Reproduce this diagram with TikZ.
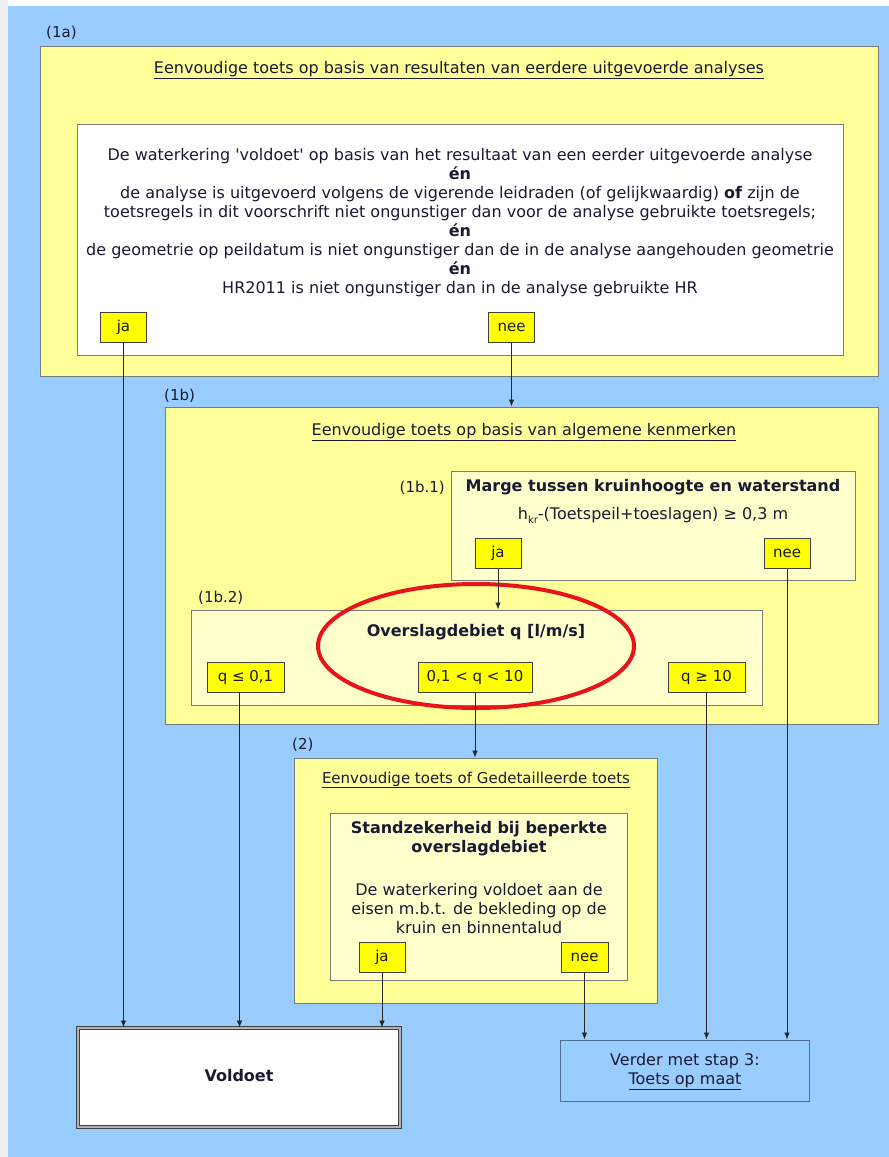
\documentclass[tikz,border=0pt]{standalone}
\usepackage{fontspec}
\setmainfont{DejaVu Sans}
\usetikzlibrary{arrows.meta,shapes.geometric}
\definecolor{bgblue}{HTML}{99CCFF}
\definecolor{margray}{HTML}{EEEEEE}
\definecolor{boxyel}{HTML}{FFFF99}
\definecolor{paleyel}{HTML}{FFFFCC}
\definecolor{optyel}{HTML}{FFFF00}
\definecolor{bordgray}{HTML}{7A7A7A}
\definecolor{txtcol}{HTML}{1A1A33}
\definecolor{ringred}{HTML}{E8141B}
\definecolor{verderbord}{HTML}{4F6F95}
\tikzset{
  bigbox/.style={draw=bordgray, fill=boxyel, line width=1pt, inner sep=0pt},
  palebox/.style={draw=bordgray, fill=paleyel, line width=1pt, inner sep=0pt},
  whitebox/.style={draw=bordgray, fill=white, line width=1pt, inner sep=0pt},
  optbox/.style={draw=black!75, fill=optyel, line width=1pt, inner sep=0pt, minimum height=30pt, text=txtcol, font=\fontsize{15}{18}\selectfont},
  txt/.style={text=txtcol, font=\fontsize{16}{19}\selectfont, inner sep=0pt, align=center},
  boldtxt/.style={text=txtcol, font=\fontsize{16}{19.5}\selectfont\bfseries, inner sep=0pt, align=center},
  lbl/.style={text=txtcol, font=\fontsize{15}{18}\selectfont, inner sep=0pt},
  conn/.style={draw=black!85, line width=0.8pt, -{Latex[length=7pt,width=5.5pt]}},
}
\begin{document}
\begin{tikzpicture}[x=1pt,y=-1pt]
\useasboundingbox (0,0) rectangle (889,1157);
\fill[white] (0,0) rectangle (889,1157);
\fill[margray] (0,0) rectangle (8,1157);
\fill[bgblue] (8,6) rectangle (889,1157);

% (1a)
\node[lbl, anchor=west] (l1a) at (46,33) {(1a)};
\node[bigbox, minimum width=838pt, minimum height=330pt] (b1a) at (459,211) {};
\node[txt] (t1a) at (459,70) {\underline{Eenvoudige toets op basis van resultaten van eerdere uitgevoerde analyses}};
\node[whitebox, minimum width=766pt, minimum height=231pt] (w1a) at (460,239.5) {};
\node[txt] (c1a) at (460,223) {De waterkering \textquotesingle voldoet\textquotesingle\ op basis van het resultaat van een eerder uitgevoerde analyse\\
\textbf{én}\\
de analyse is uitgevoerd volgens de vigerende leidraden (of gelijkwaardig) \textbf{of} zijn de\\
toetsregels in dit voorschrift niet ongunstiger dan voor de analyse gebruikte toetsregels;\\
\textbf{én}\\
de geometrie op peildatum is niet ongunstiger dan de in de analyse aangehouden geometrie\\
\textbf{én}\\
HR2011 is niet ongunstiger dan in de analyse gebruikte HR};
\node[optbox, minimum width=46pt] (ja1) at (123.5,327) {ja};
\node[optbox, minimum width=46pt] (nee1) at (511.5,327) {nee};

% (1b)
\node[lbl, anchor=west] (l1b) at (164,396) {(1b)};
\node[bigbox, minimum width=713pt, minimum height=317pt] (b1b) at (521.5,565.5) {};
\node[txt] (t1b) at (524,432) {\underline{Eenvoudige toets op basis van algemene kenmerken}};

% (1b.1)
\node[lbl, anchor=east] (l1b1) at (445,488) {(1b.1)};
\node[palebox, minimum width=404pt, minimum height=109pt] (b11) at (653,525.5) {};
\node[boldtxt] (m11) at (653,487) {Marge tussen kruinhoogte en waterstand};
\node[txt] (f11) at (653,515) {h\raisebox{-0.45ex}{\fontsize{10}{10}\selectfont kr}-(Toetspeil+toeslagen) ≥ 0,3 m};
\node[optbox, minimum width=46pt] (ja2) at (498,553.5) {ja};
\node[optbox, minimum width=46pt] (nee2) at (787,553.5) {nee};

% (1b.2)
\node[lbl, anchor=west] (l1b2) at (198,598) {(1b.2)};
\node[palebox, minimum width=571pt, minimum height=95pt] (b12) at (476.5,657.5) {};
\node[boldtxt] (m12) at (476,632) {Overslagdebiet q [l/m/s]};
\node[optbox, minimum width=77pt] (q1) at (245.5,677) {q ≤ 0,1};
\node[optbox, minimum width=114pt] (q2) at (475,677) {0,1 < q < 10};
\node[optbox, minimum width=77pt] (q3) at (706.5,677) {q ≥ 10};
\node[draw=ringred, line width=4pt, ellipse, minimum width=316pt, minimum height=124pt, inner sep=0pt] (ring) at (476,646) {};

% (2)
\node[lbl, anchor=west] (l2) at (292,745) {(2)};
\node[bigbox, minimum width=363pt, minimum height=245pt] (b2) at (475.5,880.5) {};
\node[txt, font=\fontsize{15}{18}\selectfont] (t2) at (476,780) {\underline{Eenvoudige toets of Gedetailleerde toets}};
\node[palebox, minimum width=297pt, minimum height=167pt] (b2i) at (478.5,896.5) {};
\node[boldtxt] (m2) at (479,838.5) {Standzekerheid bij beperkte\\overslagdebiet};
\node[txt] (c2) at (479,909) {De waterkering voldoet aan de\\eisen m.b.t. de bekleding op de\\kruin en binnentalud};
\node[optbox, minimum width=46pt] (ja3) at (382,957) {ja};
\node[optbox, minimum width=47pt] (nee3) at (584.5,957) {nee};

% outcomes
\node[draw=black!75, double=gray!60, line width=1pt, double distance=2pt, fill=white, minimum width=322pt, minimum height=99pt, inner sep=0pt] (vold) at (239,1077.5) {};
\node[boldtxt] (voldt) at (239,1076) {Voldoet};
\node[draw=verderbord, fill=bgblue, line width=1pt, minimum width=249pt, minimum height=61pt, inner sep=0pt] (verder) at (684.5,1070.5) {};
\node[txt] (verdert) at (685,1072) {Verder met stap 3:\\\underline{Toets op maat}};

% connectors
\draw[conn] (ja1.south) -- (ja1.south |- vold.north);
\draw[conn] (nee1.south) -- (nee1.south |- b1b.north);
\draw[conn] (ja2.south) -- (ja2.south |- b12.north);
\draw[conn] (nee2.south) -- (nee2.south |- verder.north);
\draw[conn] ([xshift=-6pt]q1.south) -- ([xshift=-6pt]q1.south |- vold.north);
\draw[conn] (q2.south) -- (q2.south |- b2.north);
\draw[conn] (q3.south) -- (q3.south |- verder.north);
\draw[conn] (ja3.south) -- (ja3.south |- vold.north);
\draw[conn] (nee3.south) -- (nee3.south |- verder.north);
\end{tikzpicture}
\end{document}
